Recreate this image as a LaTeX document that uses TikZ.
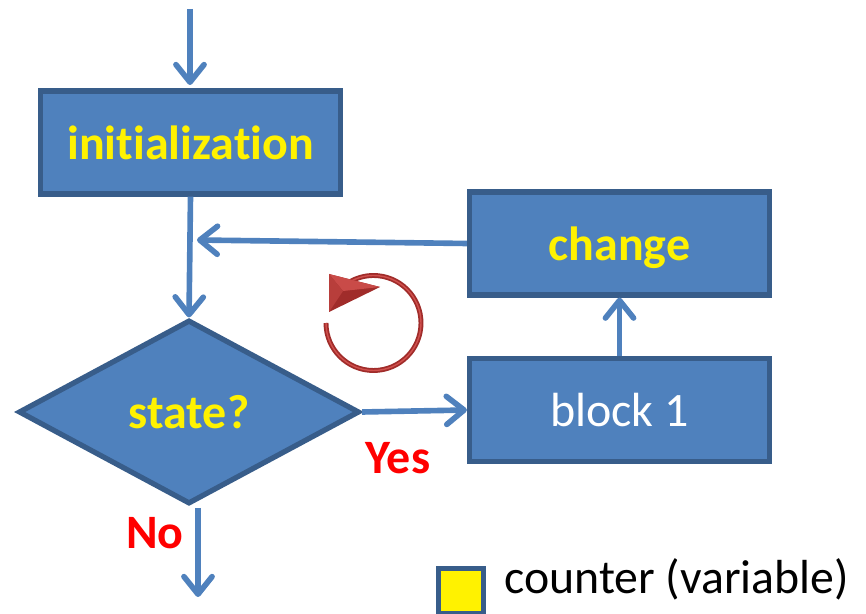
\documentclass[tikz,border=0pt]{standalone}
\usepackage{fontspec}
\setmainfont[Ligatures=NoCommon]{Carlito}
\usetikzlibrary{arrows.meta, shapes.geometric, positioning}
\definecolor{boxfill}{HTML}{4F81BD}
\definecolor{boxline}{HTML}{385D8A}
\definecolor{loopdark}{HTML}{A02C2A}
\definecolor{looplight}{HTML}{D0504D}
\tikzset{
  flowbox/.style={draw=boxline, fill=boxfill, line width=3pt, minimum width=6cm, minimum height=2.06cm, inner sep=0pt},
  statebox/.style={flowbox, shape=diamond, minimum width=6.82cm, minimum height=3.68cm},
  keyword/.style={text=yellow, text depth=0pt, font=\fontsize{27.3}{32}\selectfont\bfseries},
  answer/.style={text=red, font=\fontsize{27.3}{32}\selectfont\bfseries},
  flowline/.style={draw=boxfill, line width=3.2pt, -{Straight Barb[length=10pt, width=16pt, line width=3.2pt, round]}},
}
\begin{document}
\begin{tikzpicture}[x=0.02cm, y=-0.02cm]
\useasboundingbox (0,0) rectangle (866,614);
\node[flowbox, keyword] (init) at (190.5,142.5) {initialization};
\node[flowbox, keyword] (change) at (619.5,243.5) {change};
\node[flowbox, text=white, font=\fontsize{27.3}{32}\selectfont] (block) at (619.5,410) {block 1};
\node[statebox, keyword] (state) at (189,412) {state?};
\coordinate (start) at (190,9);
\coordinate (merge) at (197,240);
\coordinate (leave) at (198,508);
\coordinate (finish) at (198,597);
\draw[flowline] (start) -- (190,85);
\draw[flowline] (init.south) -- (state.north);
\draw[flowline] (change.west) -- (merge);
\draw[flowline] (state.east) -- (block.west);
\draw[flowline] (block.north) -- (change.south);
\draw[flowline] (leave) -- (finish);
\node[answer] (yes) at (398,458) {Yes};
\node[answer] (no) at (155,533) {No};
\draw[loopdark, line width=2.8pt] (326,323) arc[start angle=180, end angle=-120, radius=47.5];
\draw[looplight, line width=0.8pt] (326,323) arc[start angle=180, end angle=-120, radius=47.5];
\fill[loopdark] (329,274) -- (329,312) -- (380,287) -- cycle;
\fill[looplight!85!loopdark] (329,274) -- (380,287) -- (343,291) -- cycle;
\fill[looplight!50!loopdark] (329,274) -- (343,291) -- (329,312) -- cycle;
\node[draw=boxline, fill=yellow, line width=3pt, minimum size=0.9cm, inner sep=0pt] (mark) at (461,591) {};
\node[anchor=west, inner sep=0pt, font=\fontsize{27.2}{32}\selectfont] (key) at (504,579) {counter (variable)};
\end{tikzpicture}
\end{document}
